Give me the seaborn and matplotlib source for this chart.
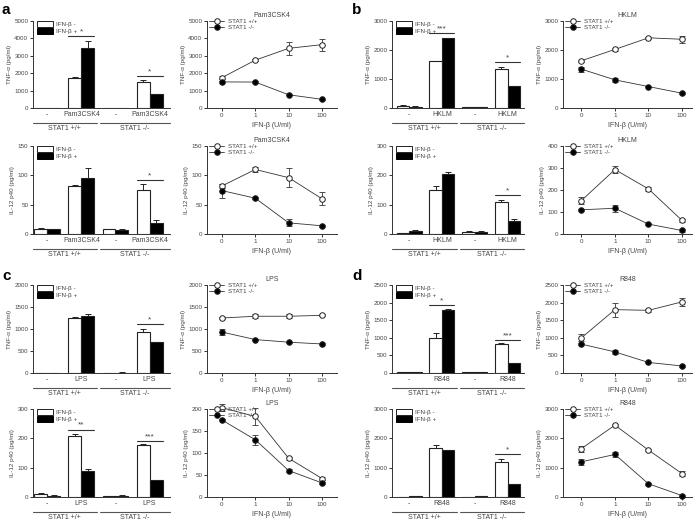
import numpy as np
import pandas as pd
import seaborn as sns
import matplotlib.pyplot as plt
from matplotlib.patches import Patch
from matplotlib.lines import Line2D

sns.set_theme(style="ticks")
plt.rcParams['font.family'] = ['Liberation Sans', 'DejaVu Sans']
plt.rcParams.update({
    'axes.edgecolor': '#333333', 'axes.linewidth': 0.7,
    'xtick.color': '#333333', 'ytick.color': '#333333',
    'xtick.labelcolor': '#444444', 'ytick.labelcolor': '#444444',
    'xtick.major.size': 2.2, 'ytick.major.size': 2.2,
    'xtick.major.width': 0.7, 'ytick.major.width': 0.7,
    'xtick.major.pad': 1.5, 'ytick.major.pad': 1.2,
    'xtick.labelsize': 4.5, 'ytick.labelsize': 4.5,
    'axes.labelsize': 4.5, 'axes.labelcolor': '#444444',
    'axes.labelpad': 2, 'text.color': '#444444',
})

W, H = 700, 523
doses = ['0', '1', '10', '100']
legend_bar = ['IFN-β -', 'IFN-β +']
legend_line = ['STAT1 +/+', 'STAT1 -/-']
geno = ['STAT1 +/+', 'STAT1 -/-']

# ---- panel a (Pam3CSK4)
a_tnf_off = [0, 1750, 0, 1500]; a_tnf_off_err = [0, 60, 0, 100]
a_tnf_on = [0, 3450, 0, 780]; a_tnf_on_err = [0, 380, 0, 30]
a_tnf_sig = [(1, 4150, '*'), (3, 1820, '*')]
a_il12_off = [9, 82, 8, 75]; a_il12_off_err = [1.5, 1, 1, 11]
a_il12_on = [8, 96, 7, 18]; a_il12_on_err = [0.5, 16, 1, 6]
a_il12_sig = [(3, 92, '*')]
a_tnf_wt = [1750, 2750, 3430, 3640]; a_tnf_wt_err = [80, 60, 380, 350]
a_tnf_ko = [1500, 1490, 760, 500]; a_tnf_ko_err = [40, 40, 40, 30]
a_il12_wt = [82, 110, 96, 60]; a_il12_wt_err = [3, 4, 16, 11]
a_il12_ko = [74, 61, 19, 14]; a_il12_ko_err = [12, 2, 6, 2]

# ---- panel b (HKLM)
b_tnf_off = [70, 1620, 40, 1350]; b_tnf_off_err = [30, 15, 10, 80]
b_tnf_on = [50, 2400, 20, 760]; b_tnf_on_err = [20, 15, 5, 10]
b_tnf_sig = [(1, 2590, '***'), (3, 1600, '*')]
b_il12_off = [3, 150, 7, 110]; b_il12_off_err = [1, 15, 2, 7]
b_il12_on = [10, 205, 8, 45]; b_il12_on_err = [3, 5, 2, 5]
b_il12_sig = [(3, 132, '*')]
b_tnf_wt = [1630, 2020, 2420, 2370]; b_tnf_wt_err = [40, 60, 40, 120]
b_tnf_ko = [1340, 970, 740, 510]; b_tnf_ko_err = [90, 60, 30, 30]
b_il12_wt = [152, 293, 205, 62]; b_il12_wt_err = [15, 15, 8, 8]
b_il12_ko = [110, 117, 45, 16]; b_il12_ko_err = [5, 15, 5, 5]

# ---- panel c (LPS)
c_tnf_off = [5, 1260, 5, 930]; c_tnf_off_err = [2, 10, 2, 70]
c_tnf_on = [5, 1290, 10, 700]; c_tnf_on_err = [2, 40, 2, 10]
c_tnf_sig = [(3, 1116, '*')]
c_il12_off = [10, 207, 2, 177]; c_il12_off_err = [3, 8, 1, 3]
c_il12_on = [5, 90, 5, 57]; c_il12_on_err = [2, 5, 2, 2]
c_il12_sig = [(1, 230, '**'), (3, 191, '***')]
c_tnf_wt = [1250, 1290, 1290, 1310]; c_tnf_wt_err = [20, 40, 40, 20]
c_tnf_ko = [930, 760, 700, 660]; c_tnf_ko_err = [60, 20, 15, 15]
c_il12_wt = [203, 183, 88, 42]; c_il12_wt_err = [8, 20, 3, 3]
c_il12_ko = [175, 130, 60, 32]; c_il12_ko_err = [3, 12, 3, 3]

# ---- panel d (R848)
d_tnf_off = [20, 1000, 35, 830]; d_tnf_off_err = [5, 130, 5, 10]
d_tnf_on = [20, 1800, 30, 285]; d_tnf_on_err = [5, 20, 5, 10]
d_tnf_sig = [(1, 1935, '*'), (3, 944, '***')]
d_il12_off = [10, 1670, 0, 1180]; d_il12_off_err = [5, 100, 0, 100]
d_il12_on = [20, 1600, 25, 445]; d_il12_on_err = [5, 10, 5, 15]
d_il12_sig = [(3, 1450, '*')]
d_tnf_wt = [1000, 1800, 1780, 2020]; d_tnf_wt_err = [100, 200, 40, 110]
d_tnf_ko = [820, 600, 300, 200]; d_tnf_ko_err = [30, 50, 20, 20]
d_il12_wt = [1650, 2450, 1600, 800]; d_il12_wt_err = [100, 40, 40, 80]
d_il12_ko = [1200, 1450, 450, 50]; d_il12_ko_err = [100, 80, 30, 10]

fig = plt.figure(figsize=(7, 5.23), dpi=100)


def add_ax(x0, y0, x1, y1):
    return fig.add_axes([x0 / W, 1 - y1 / H, (x1 - x0) / W, (y1 - y0) / H])


def bar_panel(box, xlim, stim, off, off_err, on, on_err, ymax, step, ylabel, sig):
    ax = add_ax(*box)
    df = pd.DataFrame({'pos': [0, 1, 2, 3] * 2,
                       'ifn': [legend_bar[0]] * 4 + [legend_bar[1]] * 4,
                       'val': off + on})
    sns.barplot(df, x='pos', y='val', hue='ifn', palette=['white', 'black'],
                width=0.76, errorbar=None, edgecolor='#222222', linewidth=0.8,
                legend=False, ax=ax)
    bars = sorted(ax.patches, key=lambda p: p.get_x())
    errs = [e for pair in zip(off_err, on_err) for e in pair]
    for p, e in zip(bars, errs):
        if e > 0:
            ax.errorbar(p.get_x() + p.get_width() / 2, p.get_height(),
                        yerr=[[0], [e]], fmt='none', ecolor='#222222',
                        elinewidth=0.7, capsize=2.4, capthick=0.7, zorder=1)
    ax.set_xlim(*xlim)
    ax.set_ylim(0, ymax)
    ax.set_yticks(np.arange(0, ymax + 1, step))
    ax.set_xticks([0, 1, 2, 3], ['-', stim, '-', stim], fontsize=5)
    ax.tick_params(axis='x', length=0, pad=2.5)
    ax.set_xlabel('')
    ax.set_ylabel(ylabel)
    sns.despine(ax=ax)
    tr = ax.get_xaxis_transform()
    for (g0, g1), name in zip([(xlim[0], 1.45), (1.55, xlim[1])], geno):
        ax.plot([g0, g1], [-0.175, -0.175], transform=tr, color='#555555',
                lw=0.8, clip_on=False)
        ax.text((g0 + g1) / 2, -0.235, name, transform=tr, ha='center',
                va='center', fontsize=5)
    for g, y, s in sig:
        ax.plot([g - 0.38, g + 0.38], [y, y], color='#333333', lw=0.8)
        ax.annotate(s, (g, y), xytext=(0, 0.5), textcoords='offset points',
                    ha='center', va='bottom', fontsize=6)
    handles = [Patch(facecolor='white', edgecolor='#222222', lw=0.7),
               Patch(facecolor='black', edgecolor='black', lw=0.7)]
    ax.legend(handles, legend_bar, loc='upper left', bbox_to_anchor=(0.0, 1.04),
              frameon=False, fontsize=4.5, handlelength=2.6, handleheight=1.0,
              handletextpad=0.5, labelspacing=0.15, borderaxespad=0.2,
              labelcolor='#444444')
    return ax


def line_panel(box, xlim, stim, wt, wt_err, ko, ko_err, ymax, step, ylabel):
    ax = add_ax(*box)
    pos = np.arange(4)
    for vals, errs, face in [(wt, wt_err, 'white'), (ko, ko_err, 'black')]:
        ax.errorbar(pos, vals, yerr=errs, fmt='none', ecolor='#333333',
                    elinewidth=0.6, capsize=2.2, capthick=0.6, zorder=2,
                    clip_on=False)
        sns.lineplot(x=pos, y=vals, color='#333333', lw=0.6, marker='o',
                     markersize=4, markerfacecolor=face, markeredgecolor='#222222',
                     markeredgewidth=0.7, zorder=3, ax=ax, clip_on=False)
    ax.set_xlim(*xlim)
    ax.set_ylim(0, ymax)
    ax.set_yticks(np.arange(0, ymax + 1, step))
    ax.set_xticks(pos, doses)
    ax.set_xlabel('IFN-β (U/ml)', fontsize=5, labelpad=3)
    ax.set_ylabel(ylabel)
    ax.set_title(stim, fontsize=5, pad=3, color='#444444')
    sns.despine(ax=ax)
    handles = [Line2D([], [], color='#333333', lw=0.6, marker='o', markersize=4,
                      mfc=f, mec='#222222', mew=0.7) for f in ['white', 'black']]
    ax.legend(handles, legend_line, loc='upper left', bbox_to_anchor=(-0.01, 1.07),
              frameon=False, fontsize=4.5, handlelength=2.4, handletextpad=0.5,
              labelspacing=0.1, borderaxespad=0.2, labelcolor='#444444')
    return ax


rows = [(21, 108), (146, 234), (285, 373), (409, 497)]
left_x = [(33, 170), (207, 337)]
right_x = [(392, 524), (563, 692)]
xl_left = (-0.42, 3.6)
xl_right = (-0.52, 3.5)
xl_line_l = (-0.45, 3.45)
xl_line_r = (-0.55, 3.3)
tnf_lab = 'TNF-α (pg/ml)'
il_lab = 'IL-12 p40 (pg/ml)'

panels = [
    (left_x, rows[0], rows[1], 'Pam3CSK4',
     (a_tnf_off, a_tnf_off_err, a_tnf_on, a_tnf_on_err, 5000, 1000, a_tnf_sig),
     (a_il12_off, a_il12_off_err, a_il12_on, a_il12_on_err, 150, 50, a_il12_sig),
     (a_tnf_wt, a_tnf_wt_err, a_tnf_ko, a_tnf_ko_err, 5000, 1000),
     (a_il12_wt, a_il12_wt_err, a_il12_ko, a_il12_ko_err, 150, 50), xl_left, xl_line_l),
    (right_x, rows[0], rows[1], 'HKLM',
     (b_tnf_off, b_tnf_off_err, b_tnf_on, b_tnf_on_err, 3000, 1000, b_tnf_sig),
     (b_il12_off, b_il12_off_err, b_il12_on, b_il12_on_err, 300, 100, b_il12_sig),
     (b_tnf_wt, b_tnf_wt_err, b_tnf_ko, b_tnf_ko_err, 3000, 1000),
     (b_il12_wt, b_il12_wt_err, b_il12_ko, b_il12_ko_err, 400, 100), xl_right, xl_line_r),
    (left_x, rows[2], rows[3], 'LPS',
     (c_tnf_off, c_tnf_off_err, c_tnf_on, c_tnf_on_err, 2000, 500, c_tnf_sig),
     (c_il12_off, c_il12_off_err, c_il12_on, c_il12_on_err, 300, 100, c_il12_sig),
     (c_tnf_wt, c_tnf_wt_err, c_tnf_ko, c_tnf_ko_err, 2000, 500),
     (c_il12_wt, c_il12_wt_err, c_il12_ko, c_il12_ko_err, 200, 50), xl_left, xl_line_l),
    (right_x, rows[2], rows[3], 'R848',
     (d_tnf_off, d_tnf_off_err, d_tnf_on, d_tnf_on_err, 2500, 500, d_tnf_sig),
     (d_il12_off, d_il12_off_err, d_il12_on, d_il12_on_err, 3000, 1000, d_il12_sig),
     (d_tnf_wt, d_tnf_wt_err, d_tnf_ko, d_tnf_ko_err, 2500, 500),
     (d_il12_wt, d_il12_wt_err, d_il12_ko, d_il12_ko_err, 3000, 1000), xl_right, xl_line_r),
]

for cols, r1, r2, stim, bt, bi, lt, li, xlb, xll in panels:
    (bx0, bx1), (lx0, lx1) = cols
    bar_panel((bx0, r1[0], bx1, r1[1]), xlb, stim, *bt[:6], tnf_lab, bt[6])
    bar_panel((bx0, r2[0], bx1, r2[1]), xlb, stim, *bi[:6], il_lab, bi[6])
    line_panel((lx0, r1[0], lx1, r1[1]), xll, stim, *lt, tnf_lab)
    line_panel((lx0, r2[0], lx1, r2[1]), xll, stim, *li, il_lab)

for lab, x, y in [('a', 2, 14), ('b', 352, 14), ('c', 2, 280), ('d', 352, 280)]:
    fig.text(x / W, 1 - y / H, lab, fontsize=11, fontweight='bold', color='black',
             va='baseline')

fig.savefig('out.png', dpi=100)
